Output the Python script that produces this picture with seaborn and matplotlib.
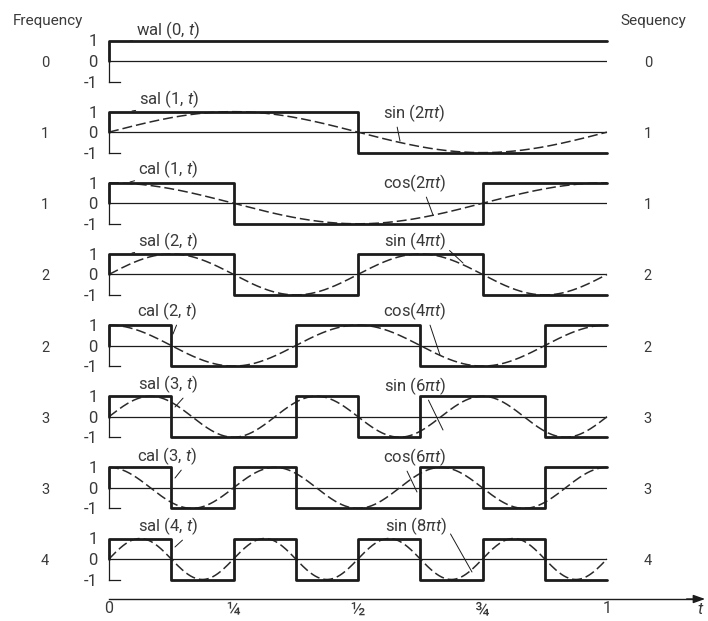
import numpy as np
import pandas as pd
import matplotlib.pyplot as plt
import seaborn as sns

# ---------------- data ----------------
frequency = [0, 1, 1, 2, 2, 3, 3, 4]
sequency = [0, 1, 1, 2, 2, 3, 3, 4]

walsh_names = ['wal (0, $t$)', 'sal (1, $t$)', 'cal (1, $t$)', 'sal (2, $t$)',
               'cal (2, $t$)', 'sal (3, $t$)', 'cal (3, $t$)', 'sal (4, $t$)']
# value of each Walsh function on the eight intervals of width 1/8
walsh_vals = [
    [1, 1, 1, 1, 1, 1, 1, 1],
    [1, 1, 1, 1, -1, -1, -1, -1],
    [1, 1, -1, -1, -1, -1, 1, 1],
    [1, 1, -1, -1, 1, 1, -1, -1],
    [1, -1, -1, 1, 1, -1, -1, 1],
    [1, -1, -1, 1, -1, 1, 1, -1],
    [1, -1, 1, -1, -1, 1, -1, 1],
    [1, -1, 1, -1, 1, -1, 1, -1],
]
trig_kind = [None, 'sin', 'cos', 'sin', 'cos', 'sin', 'cos', 'sin']
trig_names = [None, r'sin (2$\pi t$)', r'cos(2$\pi t$)', r'sin (4$\pi t$)', r'cos(4$\pi t$)',
              r'sin (6$\pi t$)', r'cos(6$\pi t$)', r'sin (8$\pi t$)']

t_ticks = [0, 0.25, 0.5, 0.75, 1]
t_ticklabels = ['0', '¼', '½', '¾', '1']

# ---------------- layout (pixels of the 708x621 picture) ----------------
W, H = 708, 621
X0, XW = 109, 498          # t = 0 and width of unit interval
AMP = 20.5                 # pixels per unit of amplitude
row_y = np.linspace(61, 559, 8)

# label boxes: (centre x, centre y, relpos, tip x, tip y) in pixels
walsh_lab = [
    (168, 30, (0, 0), 130, 41),
    (169, 99, (0, 0), 132, 111),
    (168, 169, (0, 0), 130, 182),
    (168, 241, (0, 0), 132, 253),
    (167, 311, (0.68, 0), 173, 334),
    (168, 384, (0.8, 0), 175, 407),
    (167, 456, (0.78, 0), 175, 478),
    (168, 526, (0.8, 0), 175, 547),
]
trig_lab = [
    None,
    (414, 113, (0.22, 0), 400, 141),
    (415, 183, (0.66, 0), 433, 215),
    (415, 241, (1, 0.2), 463, 263),
    (415, 311, (0.72, 0), 440, 355),
    (415, 386, (0.69, 0), 443, 430),
    (415, 457, (0.35, 0), 417, 492),
    (416, 526, (1, 0.4), 472, 572),
]

sns.set_style('white')
plt.rcParams['font.family'] = ['Roboto', 'DejaVu Sans']
plt.rcParams['mathtext.fontset'] = 'custom'
plt.rcParams['mathtext.rm'] = 'Roboto'
plt.rcParams['mathtext.it'] = 'Roboto:italic'

INK = '#1c1c1c'
TXT = '#3a3a3a'

fig = plt.figure(figsize=(W / 100, H / 100), dpi=100)
fig.patch.set_facecolor('white')

t = np.linspace(0, 1, 600)
edges = np.linspace(0, 1, 9)


def to_data(px, py, y0):
    return (px - X0) / XW, (y0 - py) / AMP


for i in range(8):
    y0 = row_y[i]
    ax = fig.add_axes([X0 / W, 1 - (y0 + AMP) / H, XW / W, 2 * AMP / H])
    ax.set_xlim(0, 1)
    ax.set_ylim(-1, 1)
    ax.patch.set_alpha(0)

    # zero line
    ax.axhline(0, color=INK, lw=0.9, zorder=1)

    # dashed sine / cosine
    if trig_kind[i] is not None:
        f = 2 * np.pi * sequency[i]
        y = np.sin(f * t) if trig_kind[i] == 'sin' else np.cos(f * t)
        sns.lineplot(x=t, y=y, ax=ax, color='#2a2a2a', lw=1.1,
                     linestyle=(0, (6.5, 2.6)), estimator=None, sort=False,
                     zorder=2, clip_on=False)

    # Walsh step function
    vals = walsh_vals[i]
    sx = np.concatenate([[0], edges])
    sy = np.concatenate([[0], vals, [vals[-1]]])
    sns.lineplot(x=sx, y=sy, ax=ax, color=INK, lw=2.0, drawstyle='steps-post',
                 estimator=None, sort=False, zorder=3, clip_on=False)

    # axis: left spine with little foot at -1
    for s in ['top', 'right']:
        ax.spines[s].set_visible(False)
    ax.spines['left'].set_color(INK)
    ax.spines['left'].set_linewidth(0.9)
    ax.spines['bottom'].set_color(INK)
    ax.spines['bottom'].set_linewidth(0.9)
    ax.spines['bottom'].set_bounds(0, 0.022)
    ax.set_xticks([])
    ax.set_yticks([-1, 0, 1])
    ax.set_yticklabels(['-1', '0', '1'])
    ax.tick_params(axis='y', length=0, pad=8, labelsize=12, labelcolor=TXT)
    ax.set_xlabel('')
    ax.set_ylabel('')

    # frequency / sequency numbers
    ax.text(-0.1285, -0.1, str(frequency[i]), ha='center', va='center',
            fontsize=10.5, color=TXT, clip_on=False)
    ax.text(1.082, -0.1, str(sequency[i]), ha='center', va='center',
            fontsize=10.5, color=TXT, clip_on=False)

    # labels with leader lines
    for name, lab in [(walsh_names[i], walsh_lab[i]), (trig_names[i], trig_lab[i])]:
        if lab is None:
            continue
        cx, cy, rp, tx, ty = lab
        ax.annotate(name, xy=to_data(tx, ty, y0), xytext=to_data(cx, cy, y0),
                    textcoords='data', ha='center', va='center', fontsize=12,
                    color=TXT, annotation_clip=False,
                    arrowprops=dict(arrowstyle='-', color=INK, lw=0.7,
                                    relpos=rp, shrinkA=0, shrinkB=0))

# headers
fig.text(48 / W, 1 - 21 / H, 'Frequency', ha='center', va='center', fontsize=11, color=TXT)
fig.text(653 / W, 1 - 21 / H, 'Sequency', ha='center', va='center', fontsize=11, color=TXT)

# t axis with arrow
axy = 599
axt = fig.add_axes([X0 / W, 1 - axy / H, 1.2 * XW / W, 10 / H])
axt.set_xlim(0, 1.2)
axt.set_ylim(0, 1)
axt.patch.set_alpha(0)
for s in ['top', 'right', 'left']:
    axt.spines[s].set_visible(False)
axt.spines['bottom'].set_color(INK)
axt.spines['bottom'].set_linewidth(1.0)
axt.spines['bottom'].set_bounds(0, 1.17)
axt.set_yticks([])
axt.set_xticks(t_ticks)
axt.set_xticklabels(t_ticklabels)
axt.tick_params(axis='x', direction='in', length=6.5, width=0.9, color=INK,
                pad=1.5, labelsize=11.5, labelcolor=TXT)
for lbl in axt.get_xticklabels():
    if lbl.get_text() in ('¼', '½', '¾'):
        lbl.set_fontsize(13.5)
axt.annotate('', xy=(1.197, 0), xytext=(1.16, 0), xycoords=('data', 'axes fraction'),
             textcoords=('data', 'axes fraction'), annotation_clip=False,
             arrowprops=dict(arrowstyle='-|>,head_length=0.7,head_width=0.25',
                             color=INK, lw=1.0, shrinkA=0, shrinkB=0))
axt.text((701 - X0) / XW, -1.0, '$t$', ha='center', va='center', fontsize=12,
         color=TXT, clip_on=False)

fig.savefig('out.png', dpi=100, facecolor='white')
